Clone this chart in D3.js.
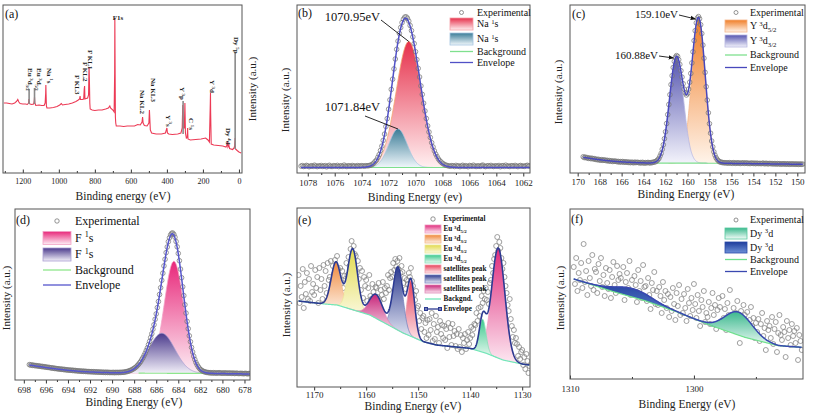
<!DOCTYPE html>
<html><head><meta charset="utf-8">
<script src="https://cdn.jsdelivr.net/npm/d3@7"></script>
<style>body{margin:0;background:#fff}svg{display:block}svg text{font-family:"Liberation Serif","Times New Roman",Times,serif}</style>
</head><body>
<script>
// ================= DATA =================
// (a) survey spectrum
const surveyBE = [1305,1290,1275,1260,1245,1235,1228,1222,1215,1200,1185,1175,1168,1166,1164,1160,1150,1140,1137,1135,1133,1128,1110,1095,1082,1076,1073,1072,1071,1069,1066,1050,1030,1010,995,986,980,965,945,925,905,892,885,882,880,870,862,859,857,855,848,840,835,833,832,830,828,826,815,800,780,760,740,725,717,713,700,693,690,689,688,686,684,681,660,640,620,600,580,562,548,538,535,532,525,510,500,497,495,492,485,460,430,408,400,397,390,370,340,322,315,312,309,303,300,297,292,287,285,283,270,240,210,185,172,164,159,158,157,154,140,115,90,72,66,64,61,56,52,35,27,24,21,19,10,0,-12];
const surveyInt = [70,70,69.5,69,70,71.5,73.5,71,69.5,69,69,68.5,70,74,70,69,68.5,69,71,76,70,67.5,68,67.5,67.5,70,80,88,80,67,65,65,65.5,66.5,68,69.5,68,68.5,69,70,71.5,73,74,77,73.5,73.5,74,84,87,74,74.5,75,78,100,106,90,70,64,63,62.5,63,63,64,65,67,65,63,61,100,155,120,56,50,47,47,46.5,47,47,47,48.5,48,51,56,50,47.5,47,50,63,55,43,40,39,39,40,45,40,39,38.5,39,40,45,68,45,45,70,40,35,36,45,34,33,33.5,34,35,33,31,70,80,60,29,28,27.5,27,26,28,31,26,28,24.5,23.5,25,27,35,24,22.5,21,20];
const surveyMarkBE = [1165,1135,310,21];
const surveyMarkBase = [69,69,39,24];
const surveyMarkTop = [84,85,72,120];
const surveyLabels = ["Eu ^{3}d_{3/2}","Eu ^{3}d_{5/2}","Na ^{1}s","F KL3","F KL2","F KL1","Na KL2","Na KL3","Y ^{3}s","Y ^{3}p","C ^{1}s","Y ^{3}d","Dy ^{4}d","Dy ^{5}p"];
const surveyLabelBE = [1161,1110,1053,899,854,827,538,477,393,316,266,149,60,16];
const surveyLabelTop = [105,105,105,98,111,123,83,95,58,86,55,93,45,136];
const surveyTicks = [1200,1000,800,600,400,200,0];
const surveyMinor = [1300,1100,900,700,500,300,100];

// (b) Na 1s
const bExpStart = 1078.5, bExpStep = -0.1;
const bExp = [6.9,7.4,6.5,6.8,7.6,7.1,6.3,6.9,7.3,6.6,7.8,7.0,6.4,7.2,6.8,7.5,6.6,6.9,7.4,6.2,7.0,7.7,6.7,6.5,7.3,7.1,6.8,7.6,6.4,7.0,7.2,6.6,7.9,6.9,6.5,7.3,7.0,6.7,7.5,6.8,7.1,6.6,7.4,7.0,6.9,7.3,
7.1,6.8,7.3,7.2,
7.3,7.6,7.9,8.8,9.8,11.5,12.9,15.6,18.4,22.5,26.9,32.6,38.9,46.5,54.4,63.8,73.1,83.6,93.8,104.1,114.0,123.7,131.9,139.6,145.5,150.4,153.8,155.9,156.2,154.8,151.9,147.5,142.4,136.1,129.4,121.3,113.4,104.6,96.0,87.1,78.6,69.8,62.0,54.5,47.1,41.0,35.5,30.3,26.0,22.1,18.9,16.4,14.0,12.3,10.9,9.7,8.9,8.0,7.7,7.3,7.0,
6.8,7.4,7.1,6.5,7.6,6.9,7.2,6.4,7.0,7.7,6.6,7.3,6.9,6.3,7.5,7.1,6.7,7.8,6.9,6.5,7.2,7.0,6.6,7.4,7.9,6.8,6.4,7.1,7.3,6.7,7.6,6.9,6.5,7.2,7.0,6.8,7.5,6.3,7.1,7.4,6.6,7.8,6.9,7.0,6.5,7.3,7.2,6.7,7.6,6.9,6.4,7.1,7.5,6.8,7.0,6.6,7.3,7.7,6.9,7.2];
const bBgE = [1078.5,1061.5], bBgV = [5.5,5.5];
const bPeakCenter = [1070.5,1071.3], bPeakHeight = [126,38.5], bPeakFwhm = [2.2,1.6];
const bTicks = [1078,1076,1074,1072,1070,1068,1066,1064,1062];
const bMinor = [1077,1075,1073,1071,1069,1067,1065,1063];

// (c) Y 3d
const cExpStart = 169.5, cExpStep = -0.1;
const cExp = [16.2,15.4,15.9,15.1,15.3,14.6,15.0,14.3,14.8,14.1,14.4,13.6,13.9,13.2,13.7,13.0,12.8,13.4,12.6,13.0,12.9,12.3,12.7,11.9,12.4,11.8,12.2,11.5,12.0,11.7,11.8,11.2,11.6,10.9,11.4,11.0,11.5,10.7,11.2,10.8,11.1,10.5,10.9,10.3,10.8,10.6,10.2,10.9,10.4,10.7,10.6,10.1,10.5,10.0,10.7,10.2,9.9,10.4,10.1,10.6,
10.3,10.0,10.5,10.4,10.9,11.1,11.3,12.3,13.2,14.6,17.0,19.6,23.7,28.2,34.3,41.2,49.5,58.4,68.5,78.3,88.4,97.3,105.5,111.6,115.8,117.4,116.6,113.3,108.6,102.3,95.9,89.3,83.9,80.1,78.0,79.4,83.9,90.8,99.6,110.1,121.2,132.4,142.3,150.1,155.0,156.4,154.2,148.3,139.5,127.9,114.8,100.6,86.3,72.9,60.2,49.3,39.8,32.0,26.1,21.2,17.9,15.3,13.5,12.4,11.3,11.0,10.6,10.5,10.2,10.3,10.1,
10.2,9.8,10.4,9.9,10.1,9.7,10.3,10.0,9.6,10.2,9.9,10.1,9.5,10.0,9.8,10.2,9.6,9.9,10.1,9.5,9.8,9.4,10.0,9.7,9.5,9.9,9.3,9.8,9.6,9.4,9.7,9.3,9.6,9.9,9.2,9.5,9.7,9.1,9.4,9.6,9.2,9.5,9.0,9.4,9.3,8.9,9.4,9.1,9.3,8.8,9.2,9.0,9.3,8.8,9.1,8.9,9.2,8.7,9.0,9.1,8.8,9.1,8.7,9.0,8.9,8.6,9.0,8.8,8.7,8.9];
const cBgE = [169.5,168.5,167.5,166.5,165.5,164.5,163.5,156.5,153,149.5];
const cBgV = [15.7,14.0,12.6,11.5,10.8,10.3,10.0,9.7,9.2,8.7];
const cPeakCenter = [159.0,161.0], cPeakHeight = [145,106], cPeakFwhm = [1.45,1.5];
const cTicks = [170,168,166,164,162,160,158,156,154,152,150];
const cMinor = [169,167,165,163,161,159,157,155,153,151];

// (d) F 1s
const dExpStart = 697.5, dExpStep = -0.1;
const dExp = [15.4,14.9,15.1,14.6,14.8,14.3,14.5,14.0,14.2,13.8,13.8,13.4,13.6,13.1,13.3,12.8,12.9,12.5,12.6,12.2,12.2,11.8,12.0,11.5,11.6,11.2,11.3,10.9,11.0,10.7,10.8,10.4,10.6,10.1,10.3,9.9,10.0,9.7,9.9,9.5,9.7,9.3,9.5,9.1,9.2,8.9,9.1,8.7,8.9,8.6,8.8,8.5,8.6,8.3,8.5,8.2,8.4,8.1,8.3,8.0,8.2,7.9,8.1,7.8,8.0,7.7,7.9,7.6,7.8,7.5,7.8,7.5,7.7,7.4,7.6,7.4,7.7,7.3,7.6,7.5,7.6,7.4,7.7,7.5,7.8,
7.7,7.8,8.2,8.3,8.6,8.8,9.4,9.7,10.3,11.0,11.6,12.5,13.3,14.6,15.7,17.2,18.6,20.6,22.3,24.6,26.8,29.5,32.1,35.4,38.6,42.5,46.3,50.8,55.3,60.7,66.1,72.4,78.5,85.5,92.3,99.7,106.8,114.1,120.7,127.4,133.0,138.3,142.2,145.1,146.7,147.0,145.6,142.8,138.5,133.2,126.6,119.3,110.9,102.3,93.2,84.4,75.3,66.9,58.6,51.3,44.2,38.3,32.6,28.0,23.8,20.5,17.5,15.3,13.4,11.9,10.6,9.8,9.0,8.6,8.1,7.9,7.5,7.5,7.2,7.3,7.1,7.0,7.3,6.9,7.2,6.8,7.1,7.3,6.9,7.0,6.8,
6.9,7.1,6.8,7.0,6.7,6.9,7.0,6.6,6.8,6.9,6.5,6.7,6.8,6.6,6.4,6.7,6.5,6.6,6.3,6.5,6.6,6.4,6.2,6.5,6.4];
const dBgE = [697.5,696.5,695.5,694.5,693.5,692.5,691,689.5,688,684,681,677.5];
const dBgV = [15.0,13.3,11.7,10.3,9.2,8.3,7.6,7.1,6.8,6.7,6.6,6.0];
const dPeakCenter = [684.4,685.5], dPeakHeight = [112,40], dPeakFwhm = [2.1,2.8];
const dTicks = [698,696,694,692,690,688,686,684,682,680,678];
const dMinor = [697,695,693,691,689,687,685,683,681,679];

// (e) Eu 3d
const eExpStart = 1173.0, eExpStep = -0.2;
const eExp = [112,84,101,90,118,79,105,93,114,88,108,86,121,95,103,92,117,99,110,84,119,97,108,88,122,101,116,94,124,107,110,126,104,121,113,127,112,131,118,108,119,104,116,99,111,108,124,112,130,121,138,146,129,141,133,131,114,126,108,119,97,116,89,110,101,107,86,99,112,91,88,103,95,84,100,99,90,104,86,97,92,105,88,99,94,101,112,97,109,115,110,124,117,128,120,126,118,129,114,121,115,104,109,98,107,103,114,110,119,106,101,92,87,96,79,81,66,74,58,69,71,55,64,49,67,52,68,57,74,46,63,48,71,55,60,44,66,53,62,49,61,47,58,39,64,50,59,42,63,51,56,41,53,38,58,40,52,35,49,44,53,38,47,55,43,49,60,52,58,63,62,74,66,79,71,80,91,84,96,88,99,87,95,83,104,107,121,114,128,132,141,150,136,145,139,129,118,124,110,101,94,82,76,88,68,61,50,57,44,49,43,31,40,28,35,37,22,30,18,33,26,14,21];
const eBgE = [1173,1168,1165.6,1159.3,1152.9,1149,1146.5,1143.3,1140.1,1136.9,1133.7,1129.8,1128.5];
const eBgV = [86,83,82,72,54,45.3,42,40.3,38.7,33.7,27,22.7,22];
const ePeakCenter = [1134.6,1165.8,1162.6,1137.6,1151.4,1153.9,1158.1];
const ePeakHeight = [110,43,61,33,56,63,24];
const ePeakFwhm = [3.0,2.2,2.2,1.5,1.7,2.2,3.0];
const eTicks = [1170,1160,1150,1140,1130];
const eMinor = [1165,1155,1145,1135];

// (f) Dy 3d
const fExpStart = 1309.7, fExpStep = -0.1;
const fExp = [112,95,121,88,106,99,116,91,135,97,108,84,118,101,93,124,89,110,107,86,115,98,121,92,104,83,111,96,90,109,81,102,117,94,86,113,99,105,101,88,112,79,97,106,91,118,84,99,85,103,94,77,109,88,98,81,114,92,93,78,101,84,70,96,89,107,75,88,74,92,83,66,97,79,88,71,85,62,82,68,91,75,59,86,73,94,64,80,66,85,71,58,90,76,63,81,69,95,75,61,84,68,53,79,72,88,57,66,62,77,55,71,86,64,74,50,69,81,72,58,83,61,70,49,76,64,89,60,57,71,52,66,78,60,36,68,55,74,64,50,67,45,59,72,53,61,41,56,47,60,38,55,66,43,51,29,58,49,53,41,62,35,50,57,27,46,64,44,39,52,47,22,58,41,49,34,55,43,48,36,51,19,44,38,29];
const fBgE = [1309.7,1306.6,1303.95,1301.3,1298.6,1295.9,1293.2,1291.3];
const fBgV = [100,87.7,78.3,66.7,53.3,41.7,33.3,31.7];
const fPeakCenter = [1296.4,1304.9], fPeakHeight = [23,8.5], fPeakFwhm = [2.6,3.5];
const fTicks = [1310,1300];
const fMinor = [1305,1295];

// ================= DRAWING =================
const FONT = '"Liberation Serif","Times New Roman",Times,serif';
const svg = d3.select('body').append('svg').attr('width',813).attr('height',414)
  .attr('font-family',FONT);
svg.append('rect').attr('width',813).attr('height',414).attr('fill','#fff');
const defs = svg.append('defs');
let uid = 0;
defs.append('marker').attr('id','arr').attr('viewBox','0 0 10 10').attr('refX',9).attr('refY',5)
  .attr('markerWidth',6).attr('markerHeight',6).attr('orient','auto')
  .append('path').attr('d','M0,1 L10,5 L0,9 z').attr('fill','#111');

function gradient(top,bottom){
  const id='gr'+(uid++);
  const lg=defs.append('linearGradient').attr('id',id).attr('x1',0).attr('y1',0).attr('x2',0).attr('y2',1);
  lg.append('stop').attr('offset','0%').attr('stop-color',top);
  lg.append('stop').attr('offset','100%').attr('stop-color',bottom);
  return 'url(#'+id+')';
}
function rich(sel,str,fs){
  const parts=str.split(/(\^\{[^}]*\}|_\{[^}]*\})/).filter(s=>s.length);
  let off=0;
  parts.forEach(p=>{
    let t=p,target=0,size=fs;
    if(p.startsWith('^{')){t=p.slice(2,-1);target=-0.38*fs;size=fs*0.68;}
    else if(p.startsWith('_{')){t=p.slice(2,-1);target=0.22*fs;size=fs*0.68;}
    sel.append('tspan').attr('font-size',size).attr('dy',target-off).text(t);
    off=target;
  });
}
function interp(xs,ys,v){
  let X=xs,Y=ys;
  if(xs[0]>xs[xs.length-1]){X=xs.slice().reverse();Y=ys.slice().reverse();}
  if(v<=X[0])return Y[0];
  if(v>=X[X.length-1])return Y[Y.length-1];
  let i=1; while(X[i]<v)i++;
  const t=(v-X[i-1])/(X[i]-X[i-1]);
  return Y[i-1]+t*(Y[i]-Y[i-1]);
}
function drawAxis(P,x){
  const s=P.tickIn?-1:1;
  const g1=svg.append('g').attr('transform',`translate(0,${P.bottom})`)
    .call(d3.axisBottom(x).tickValues(P.minor).tickSize(2*s).tickFormat(''));
  const g2=svg.append('g').attr('transform',`translate(0,${P.bottom})`)
    .call(d3.axisBottom(x).tickValues(P.major).tickSize(3.5*s).tickPadding(P.pad).tickFormat(d3.format('d')));
  [g1,g2].forEach(g=>{g.select('.domain').remove();g.selectAll('line').attr('stroke','#333');
    g.attr('font-family',FONT).attr('font-size',P.tickFs);g.selectAll('text').attr('fill','#222');});
}
function frameAndLabels(P){
  svg.append('rect').attr('x',P.left).attr('y',P.top).attr('width',P.right-P.left).attr('height',P.bottom-P.top)
    .attr('fill','none').attr('stroke','#555').attr('stroke-width',1);
  svg.append('text').attr('x',P.xlab[0]).attr('y',P.xlab[1]).attr('text-anchor','middle')
    .attr('font-size',11.5).attr('fill','#222').text(P.xlabText);
  svg.append('text').attr('transform',`translate(${P.ylab[0]},${P.ylab[1]}) rotate(-90)`).attr('text-anchor','middle')
    .attr('font-size',11).attr('fill','#222').text('Intensity (a.u.)');
  svg.append('text').attr('x',P.tag[0]).attr('y',P.tag[1]).attr('font-size',12).attr('fill','#111').text(P.tagText);
}
function legend(items,o){
  const g=svg.append('g');
  items.forEach(it=>{
    if(it.type==='circle') g.append('circle').attr('cx',(o.sx0+o.sx1)/2).attr('cy',it.y).attr('r',o.r)
      .attr('fill','none').attr('stroke','#777').attr('stroke-width',0.8);
    else if(it.type==='swatch') g.append('rect').attr('x',o.sx0).attr('y',it.y-o.sh/2).attr('width',o.sx1-o.sx0)
      .attr('height',o.sh).attr('fill',it.fill).attr('stroke',it.stroke).attr('stroke-width',0.8);
    else {
      g.append('line').attr('x1',o.sx0).attr('x2',o.sx1).attr('y1',it.y).attr('y2',it.y)
        .attr('stroke',it.color).attr('stroke-width',1.3);
      if(it.squares){[o.sx0+1,o.sx1-1].forEach(cx=>g.append('rect').attr('x',cx-1.5).attr('y',it.y-1.5)
        .attr('width',3).attr('height',3).attr('fill','none').attr('stroke',it.color));}
    }
    const t=g.append('text').attr('x',o.tx).attr('y',it.y+o.fs*0.33).attr('font-size',o.fs).attr('fill','#111');
    if(o.bold)t.attr('font-weight','bold');
    rich(t,it.label,o.fs);
  });
}
function spectrumPanel(P){
  const x=d3.scaleLinear().domain(P.xDom).range([P.left,P.right]);
  const y=d3.scaleLinear().domain([0,P.bottom-P.top]).range([P.bottom,P.top]);
  const cid='clip'+(uid++);
  defs.append('clipPath').attr('id',cid).append('rect').attr('x',P.left).attr('y',P.top)
    .attr('width',P.right-P.left).attr('height',P.bottom-P.top);
  const plot=svg.append('g').attr('clip-path',`url(#${cid})`);
  const bg=e=>interp(P.bgE,P.bgV,e);
  const comps=P.center.map((c,i)=>({c,h:P.height[i],f:P.fwhm[i]}));
  const gv=(cp,e)=>cp.h*Math.exp(-4*Math.LN2*(e-cp.c)*(e-cp.c)/(cp.f*cp.f));
  const expE=P.exp.map((v,i)=>+(P.expStart+i*P.expStep).toFixed(3));
  const eMax=d3.max(expE),eMin=d3.min(expE);
  const fine=d3.range(eMax,eMin-1e-9,-P.fine);
  const grads=comps.map((cp,i)=>gradient(P.cTop[i],P.cBot[i]));
  const layers={
    comps:()=>{comps.forEach((cp,i)=>{
      const es=fine.filter(e=>Math.abs(e-cp.c)<=cp.f*1.9);
      plot.append('path').datum(es).attr('fill',grads[i])
        .attr('d',d3.area().x(e=>x(e)).y0(e=>y(bg(e))).y1(e=>y(bg(e)+gv(cp,e))));
      plot.append('path').datum(es).attr('fill','none').attr('stroke',P.cLine[i]).attr('stroke-width',0.8)
        .attr('d',d3.line().x(e=>x(e)).y(e=>y(bg(e)+gv(cp,e))));
    });},
    bg:()=>{const es=fine.filter(e=>e<=P.bgRange[0]&&e>=P.bgRange[1]);
      plot.append('path').datum(es).attr('fill','none').attr('stroke',P.bgColor).attr('stroke-width',1.2)
        .attr('d',d3.line().x(e=>x(e)).y(e=>y(bg(e))));},
    exp:()=>{plot.append('g').selectAll('circle').data(P.exp).join('circle')
        .attr('cx',(d,i)=>x(expE[i])).attr('cy',d=>y(d)).attr('r',P.r)
        .attr('fill','none').attr('stroke',P.expColor||'#777').attr('stroke-width',0.75);},
    env:()=>{plot.append('path').datum(fine).attr('fill','none').attr('stroke',P.envColor).attr('stroke-width',P.envW||1.5)
        .attr('d',d3.line().x(e=>x(e)).y(e=>y(bg(e)+d3.sum(comps,cp=>gv(cp,e)))));}
  };
  P.order.forEach(k=>layers[k]());
  drawAxis(P,x);
  frameAndLabels(P);
  return {x,y,bg,comps,grads};
}

// ---------- (a) ----------
{
  const P={left:3,right:242,top:5,bottom:173,major:surveyTicks,minor:surveyMinor,tickIn:true,pad:5,tickFs:8,
    xlab:[123,200],xlabText:'Binding energy (eV)',ylab:[256,89],tag:[5,18],tagText:'(a)'};
  const x=d3.scaleLinear().domain([1310,-17]).range([P.left,P.right]);
  const y=d3.scaleLinear().domain([0,168]).range([P.bottom,P.top]);
  const pts=surveyBE.map((e,i)=>[e,surveyInt[i]]);
  svg.append('path').datum(pts).attr('fill','none').attr('stroke','#ec3a55').attr('stroke-width',1.1)
    .attr('d',d3.line().x(d=>x(d[0])).y(d=>y(d[1])));
  surveyMarkBE.forEach((e,i)=>svg.append('line').attr('x1',x(e)).attr('x2',x(e))
    .attr('y1',y(surveyMarkBase[i])).attr('y2',y(surveyMarkTop[i])).attr('stroke','#8a8a8a').attr('stroke-width',1.6));
  surveyLabels.forEach((s,i)=>{
    const t=svg.append('text').attr('transform',`translate(${x(surveyLabelBE[i])-2.3},${y(surveyLabelTop[i])}) rotate(90)`)
      .attr('font-size',7).attr('font-weight','bold').attr('fill','#222');
    rich(t,s,7);
  });
  svg.append('text').attr('x',x(671)).attr('y',y(153)).attr('text-anchor','middle').attr('font-size',7)
    .attr('font-weight','bold').attr('fill','#222').text('F1s');
  drawAxis(P,x);
  frameAndLabels(P);
}

// ---------- (b) ----------
{
  const P={left:297,right:530,top:5,bottom:173,xDom:[1078.8,1061.5],exp:bExp,expStart:bExpStart,expStep:bExpStep,
    bgE:bBgE,bgV:bBgV,bgRange:[1078.6,1061.4],center:bPeakCenter,height:bPeakHeight,fwhm:bPeakFwhm,fine:0.02,
    cTop:['#e6304b','#3b7c97'],cBot:['#fff0f1','#f0f7fb'],cLine:['#f4a46c','#a6c6e0'],
    bgColor:'#7fe08e',envColor:'#5050c6',r:2.3,order:['comps','bg','exp','env'],
    major:bTicks,minor:bMinor,tickIn:false,pad:3.5,tickFs:9,
    xlab:[415,201],xlabText:'Binding Energy (ev)',ylab:[289,100],tag:[298,17],tagText:'(b)'};
  const S=spectrumPanel(P);
  const ann=(txt,tx,ty,lx,ly,pe,pv)=>{
    svg.append('text').attr('x',tx).attr('y',ty).attr('text-anchor','end').attr('font-size',12.5).attr('fill','#111').text(txt);
    svg.append('line').attr('x1',lx).attr('y1',ly).attr('x2',S.x(pe)).attr('y2',S.y(pv)).attr('stroke','#111').attr('stroke-width',0.9);
  };
  ann('1070.95eV',380,21,381,20,bPeakCenter[0],bPeakHeight[0]+bBgV[0]);
  ann('1071.84eV',380,111,365,116,bPeakCenter[1],bPeakHeight[1]+bBgV[0]);
  legend([
    {type:'circle',y:12.5,label:'Experimental'},
    {type:'swatch',y:24,label:'Na ^{1}s',fill:S.grads[0],stroke:'#f4a0a8'},
    {type:'swatch',y:39,label:'Na ^{1}s',fill:S.grads[1],stroke:'#a6c6e0'},
    {type:'line',y:51.5,label:'Background',color:'#7fe08e'},
    {type:'line',y:62.5,label:'Envelope',color:'#5050c6'}
  ],{sx0:450,sx1:473,tx:477,fs:10,sh:12,r:2});
}

// ---------- (c) ----------
{
  const P={left:570,right:805,top:5,bottom:173,xDom:[170.7,149.3],exp:cExp,expStart:cExpStart,expStep:cExpStep,
    bgE:cBgE,bgV:cBgV,bgRange:[162.8,155.0],center:cPeakCenter,height:cPeakHeight,fwhm:cPeakFwhm,fine:0.02,
    cTop:['#f07e28','#5656b0'],cBot:['#fff4ea','#f3f3fb'],cLine:['#f5b68a','#b8b8e2'],
    bgColor:'#7fe08e',envColor:'#4848bc',r:2.3,order:['comps','bg','exp','env'],
    major:cTicks,minor:cMinor,tickIn:false,pad:2.5,tickFs:9,
    xlab:[686,198],xlabText:'Binding Energy (eV)',ylab:[562,92],tag:[572,18],tagText:'(c)'};
  const S=spectrumPanel(P);
  const ann=(txt,tx,ty,lx,ly,pe,pv,dx)=>{
    svg.append('text').attr('x',tx).attr('y',ty).attr('text-anchor','end').attr('font-size',11).attr('fill','#111').text(txt);
    svg.append('line').attr('x1',lx).attr('y1',ly).attr('x2',S.x(pe)+dx).attr('y2',S.y(pv)+1).attr('stroke','#111')
      .attr('stroke-width',0.9).attr('marker-end','url(#arr)');
  };
  ann('159.10eV',678,18,679,15,cPeakCenter[0],cPeakHeight[0]+10,-3);
  ann('160.88eV',658,59,659,56,cPeakCenter[1],cPeakHeight[1]+10,-3);
  legend([
    {type:'circle',y:12.5,label:'Experimental'},
    {type:'swatch',y:26,label:'Y ^{3}d_{5/2}',fill:S.grads[0],stroke:'#f5b68a'},
    {type:'swatch',y:41,label:'Y ^{3}d_{3/2}',fill:S.grads[1],stroke:'#b8b8e2'},
    {type:'line',y:55,label:'Background',color:'#7fe08e'},
    {type:'line',y:67.5,label:'Envelope',color:'#4848bc'}
  ],{sx0:725,sx1:747,tx:750,fs:10,sh:12,r:2});
}

// ---------- (d) ----------
{
  const P={left:15,right:250,top:209,bottom:380,xDom:[698.8,677.5],exp:dExp,expStart:dExpStart,expStep:dExpStep,
    bgE:dBgE,bgV:dBgV,bgRange:[687.6,681.0],center:dPeakCenter,height:dPeakHeight,fwhm:dPeakFwhm,fine:0.02,
    cTop:['#e8287a','#4a3a8c'],cBot:['#fdeef5','#f3f0f9'],cLine:['#f2a2c6','#aa9ed2'],
    bgColor:'#8ee68c',envColor:'#5656cc',r:2.3,order:['comps','bg','exp','env'],
    major:dTicks,minor:dMinor,tickIn:false,pad:3.5,tickFs:9,
    xlab:[134,406],xlabText:'Binding Energy (eV)',ylab:[10,298],tag:[16,224],tagText:'(d)'};
  const S=spectrumPanel(P);
  legend([
    {type:'circle',y:221,label:'Experimental'},
    {type:'swatch',y:238,label:'F ^{1}s',fill:S.grads[0],stroke:'#f2a2c6'},
    {type:'swatch',y:254.5,label:'F ^{1}s',fill:S.grads[1],stroke:'#aa9ed2'},
    {type:'line',y:270,label:'Background',color:'#8ee68c'},
    {type:'line',y:285,label:'Envelope',color:'#5656cc'}
  ],{sx0:43,sx1:71,tx:75,fs:12,sh:13,r:2.2});
}

// ---------- (e) ----------
{
  const P={left:297,right:530,top:208,bottom:387,xDom:[1173.3,1128.5],exp:eExp,expStart:eExpStart,expStep:eExpStep,
    bgE:eBgE,bgV:eBgV,bgRange:[1173,1128.6],center:ePeakCenter,height:ePeakHeight,fwhm:ePeakFwhm,fine:0.05,
    cTop:['#e02c7c','#f0883c','#e2da4e','#3cc98e','#e8405a','#2c3a8e','#c8267a'],
    cBot:['#fdeaf3','#fdf0e4','#fbf9e0','#eaf9f1','#fdeaed','#e8ebf6','#fae6f0'],
    cLine:['#f09ac0','#f4b888','#ece79a','#88e0b8','#f0a0ae','#7a86c0','#e08ab8'],
    bgColor:'#72e6b8',envColor:'#2c3a92',envW:1.6,r:2.5,expColor:'#808080',order:['exp','comps','bg','env'],
    major:eTicks,minor:eMinor,tickIn:false,pad:1,tickFs:9,
    xlab:[413,410],xlabText:'Binding Energy (eV)',ylab:[290,305],tag:[298,224],tagText:'(e)'};
  const S=spectrumPanel(P);
  const lab=['Eu ^{3}d_{5/2}','Eu ^{3}d_{3/2}','Eu ^{3}d_{3/2}','Eu ^{3}d_{5/2}','satellites peak','satellites peak','satellites peak'];
  const items=[{type:'circle',y:219,label:'Experimental'}];
  lab.forEach((l,i)=>items.push({type:'swatch',y:229+10*i,label:l,fill:S.grads[i],stroke:P.cLine[i]}));
  items.push({type:'line',y:299,label:'Backgnd.',color:'#72e6b8'});
  items.push({type:'line',y:309,label:'Envelope',color:'#2c3a92',squares:true});
  legend(items,{sx0:425,sx1:441,tx:443.5,fs:7.2,sh:8,r:2.2,bold:true});
}

// ---------- (f) ----------
{
  const P={left:570,right:803,top:209,bottom:379,xDom:[1310,1291.2],exp:fExp,expStart:fExpStart,expStep:fExpStep,
    bgE:fBgE,bgV:fBgV,bgRange:[1309.7,1291.3],center:fPeakCenter,height:fPeakHeight,fwhm:fPeakFwhm,fine:0.03,
    cTop:['#3cb98e','#1e3c9c'],cBot:['#f4fcf9','#6e92d8'],cLine:['#58c89e','#2a4aa8'],
    bgColor:'#6ee08c',envColor:'#3a48b0',r:2.5,expColor:'#808080',order:['exp','comps','bg','env'],
    major:fTicks,minor:fMinor,tickIn:true,pad:7,tickFs:9,
    xlab:[687,408],xlabText:'Binding Energy (eV)',ylab:[564,298],tag:[571,223],tagText:'(f)'};
  const S=spectrumPanel(P);
  legend([
    {type:'circle',y:220,label:'Experimental'},
    {type:'swatch',y:233.5,label:'Dy ^{3}d',fill:S.grads[0],stroke:'#58c89e'},
    {type:'swatch',y:247.5,label:'Dy ^{3}d',fill:S.grads[1],stroke:'#2a4aa8'},
    {type:'line',y:259.5,label:'Background',color:'#6ee08c'},
    {type:'line',y:271.5,label:'Envelope',color:'#3a48b0'}
  ],{sx0:725,sx1:747,tx:750,fs:10,sh:11,r:2});
}
</script>
</body></html>
